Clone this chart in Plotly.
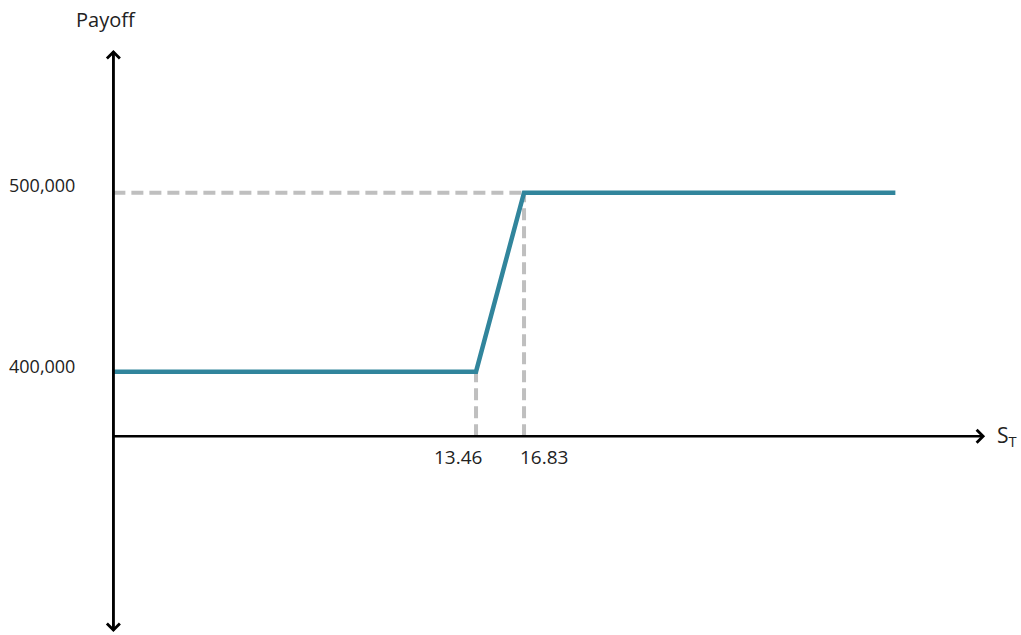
import plotly.graph_objects as go

# Schematic payoff diagram data
s_points = [-12.0, 13.46, 16.83, 42.9]          # S_T values along the payoff line
payoff = [400000, 400000, 500000, 500000]      # payoff values
breakpoints = [13.46, 16.83]
breakpoint_labels = ["13.46", "16.83"]
level_values = [400000, 500000]
level_labels = ["400,000", "500,000"]

# axis crossing / extent (schematic)
s_axis = -12.0
p_axis = 364000
s_range = [-19.96, 51.72]
p_range = [252900, 607650]
s_tip = 49.2
p_top, p_bottom = 579700, 254600

teal = "#31859C"
grey = "#BFBFBF"
font_fam = "'Open Sans', Lato, sans-serif"

fig = go.Figure()

# dashed guide lines
fig.add_trace(go.Scatter(x=[s_axis, breakpoints[1]], y=[level_values[1], level_values[1]],
                         mode="lines", line=dict(color=grey, width=4, dash="12px,6px"), hoverinfo="skip"))
for b, lv in zip(breakpoints, level_values):
    fig.add_trace(go.Scatter(x=[b, b], y=[p_axis, lv], mode="lines",
                             line=dict(color=grey, width=4, dash="12px,6px"), hoverinfo="skip"))

# payoff line
fig.add_trace(go.Scatter(x=s_points, y=payoff, mode="lines",
                         line=dict(color=teal, width=4.5), hoverinfo="skip"))

ann = []
# vertical axis (double arrow), tails overlapping so there is no gap
for end, tail in ((p_top, p_bottom), (p_bottom, p_top)):
    ann.append(dict(x=s_axis, y=end, ax=s_axis, ay=tail, xref="x", yref="y", axref="x", ayref="y",
                    showarrow=True, arrowhead=4, arrowsize=1, arrowwidth=2.5, arrowcolor="black", text=""))
# horizontal axis
ann.append(dict(x=s_tip, y=p_axis, ax=s_axis - 0.1, ay=p_axis, xref="x", yref="y", axref="x", ayref="y",
                showarrow=True, arrowhead=4, arrowsize=1, arrowwidth=2.5, arrowcolor="black", text=""))

tc = "#222222"
ann.append(dict(x=106/1021, y=1-20/635, xref="paper", yref="paper", text="Payoff", showarrow=False,
                font=dict(family=font_fam, size=20, color=tc), xanchor="center", yanchor="middle"))
for lv, lab, ys in zip(level_values, level_labels, (6, 8)):
    ann.append(dict(x=s_axis, y=lv, xref="x", yref="y", text=lab, showarrow=False, xshift=-71, yshift=ys,
                    font=dict(family=font_fam, size=18, color=tc), xanchor="center", yanchor="middle"))
ann.append(dict(x=breakpoints[0], y=p_axis, xref="x", yref="y", text=breakpoint_labels[0], showarrow=False,
                xshift=-18, yshift=-21, font=dict(family=font_fam, size=19, color=tc), xanchor="center", yanchor="middle"))
ann.append(dict(x=breakpoints[1], y=p_axis, xref="x", yref="y", text=breakpoint_labels[1], showarrow=False,
                xshift=20, yshift=-21, font=dict(family=font_fam, size=19, color=tc), xanchor="center", yanchor="middle"))
ann.append(dict(x=995/1021, y=p_axis, xref="paper", yref="y", text="S<sub>T</sub>", showarrow=False,
                yshift=0, font=dict(family=font_fam, size=21, color=tc), xanchor="left", yanchor="middle"))

fig.update_layout(
    width=1021, height=635, margin=dict(l=0, r=0, t=0, b=0),
    paper_bgcolor="white", plot_bgcolor="white", showlegend=False,
    xaxis=dict(range=s_range, visible=False, fixedrange=True),
    yaxis=dict(range=p_range, visible=False, fixedrange=True),
    annotations=ann,
)

fig.write_html("out.html", config={"displayModeBar": False},
               post_script="document.body.style.margin='0';")
